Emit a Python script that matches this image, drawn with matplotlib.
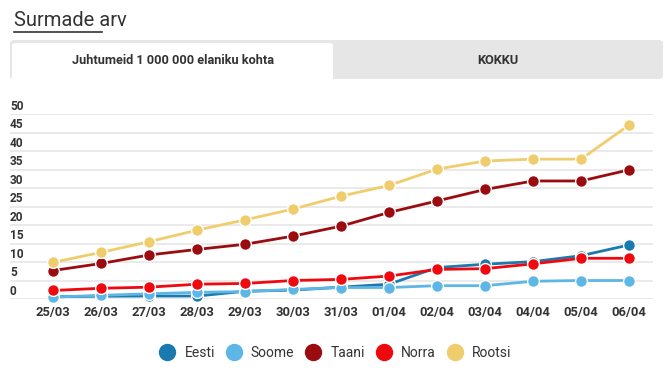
import matplotlib
matplotlib.use("Agg")
import matplotlib.pyplot as plt
from matplotlib.patches import FancyBboxPatch
from matplotlib.lines import Line2D
import numpy as np

dates = ["25/03", "26/03", "27/03", "28/03", "29/03", "30/03", "31/03",
         "01/04", "02/04", "03/04", "04/04", "05/04", "06/04"]

eesti = [0.6, 0.75, 0.8, 0.8, 2.1, 2.4, 3.2, 4.0, 8.5, 9.4, 10.1, 11.7, 14.6]
soome = [0.5, 1.0, 1.4, 1.8, 2.0, 2.6, 3.1, 3.1, 3.6, 3.6, 4.8, 5.0, 5.0]
taani = [7.7, 9.6, 11.9, 13.4, 14.8, 17.0, 19.7, 23.4, 26.5, 29.6, 31.9, 31.9, 34.9]
norra = [2.3, 2.9, 3.2, 4.0, 4.2, 5.0, 5.3, 6.2, 8.0, 8.2, 9.5, 11.0, 11.0]
rootsi = [9.9, 12.6, 15.5, 18.6, 21.4, 24.3, 27.8, 30.7, 35.1, 37.3, 37.8, 37.8, 47.0]

names = ["Eesti", "Soome", "Taani", "Norra", "Rootsi"]
colors = ["#1a7ab0", "#5db7e6", "#9b0c10", "#f0080f", "#f0cd6c"]
yticks = [0, 5, 10, 15, 20, 25, 30, 35, 40, 45, 50]

W, H = 672, 376
fig = plt.figure(figsize=(W / 100, H / 100), dpi=100)

# title + tabs
fig.text(14 / W, 1 - 21 / H, "Surmade arv", fontsize=14.5, color="#333333",
         family="Roboto", va="center", ha="left")
fig.add_artist(Line2D([14 / W, 102 / W], [1 - 32 / H, 1 - 32 / H],
                      color="#333333", lw=1.2))
fig.add_artist(FancyBboxPatch((10 / W, 1 - 79 / H), 653 / W, 39 / H,
                              boxstyle="round,pad=0,rounding_size=0.008",
                              facecolor="#e6e6e6", edgecolor="none",
                              transform=fig.transFigure))
fig.add_artist(FancyBboxPatch((12 / W, 1 - 80 / H), 321 / W, 37 / H,
                              boxstyle="round,pad=0,rounding_size=0.006",
                              facecolor="white", edgecolor="none",
                              transform=fig.transFigure))
fig.text(173 / W, 1 - 60 / H, "Juhtumeid 1 000 000 elaniku kohta", fontsize=9.2,
         color="#333333", family="Roboto", weight="bold", ha="center", va="center")
fig.text(498 / W, 1 - 60 / H, "KOKKU", fontsize=9.2, color="#333333",
         family="Roboto", weight="bold", ha="center", va="center")

ax = fig.add_axes([10 / W, 77 / H, 643 / W, 185 / H])
x = np.arange(len(dates))
left = -0.9
ax.set_xlim(left, 12.5)
ax.set_ylim(0, 50)
for s in ax.spines.values():
    s.set_visible(False)
for v in yticks:
    ax.axhline(v, color="#e6e6e6", lw=1.2, zorder=0)
    ax.annotate(str(v), (left, v), xytext=(0, 1), textcoords="offset points",
                ha="left", va="bottom", fontsize=8.6, color="#333333",
                family="Roboto", weight="bold")
ax.set_yticks([])
ax.set_xticks(x)
ax.set_xticklabels(dates, fontsize=9.4, color="#333333", family="Roboto", weight="bold")
ax.tick_params(axis="x", length=0, pad=5)

series = [eesti, soome, taani, norra, rootsi]
for vals, c, n in zip(series, colors, names):
    ax.plot(x, vals, color=c, lw=2, marker="o", ms=8.5, mec="white", mew=1,
            label=n, clip_on=False, zorder=3)

handles = [Line2D([], [], ls="none", marker="o", ms=11.5, color=c, mec=c) for c in colors]
leg = fig.legend(handles, names, loc="center", bbox_to_anchor=(335 / W, 1 - 353 / H),
                 ncol=5, frameon=False, handlelength=1.2, handletextpad=0.65,
                 columnspacing=0.75, prop={"family": "Roboto", "size": 10})
for t in leg.get_texts():
    t.set_color("#333333")

fig.savefig("out.png", dpi=100)
